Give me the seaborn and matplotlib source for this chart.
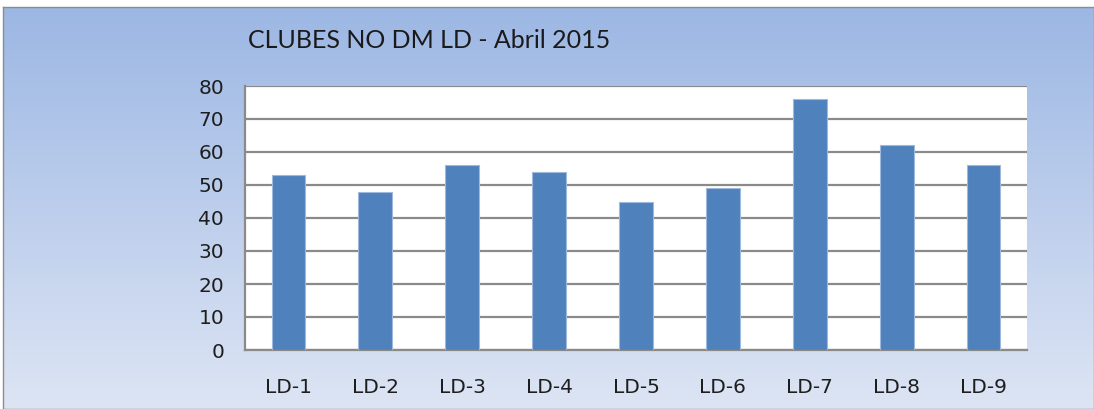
import numpy as np
import pandas as pd
import matplotlib
matplotlib.use("Agg")
import matplotlib.pyplot as plt
import seaborn as sns

# data
categories = ["LD-1", "LD-2", "LD-3", "LD-4", "LD-5", "LD-6", "LD-7", "LD-8", "LD-9"]
values = [53, 48, 56, 54, 45, 49, 76, 62, 56]
y_ticks = [0, 10, 20, 30, 40, 50, 60, 70, 80]
title = "CLUBES NO DM LD - Abril 2015"

sns.set_style("white")
plt.rcParams["font.family"] = ["DejaVu Sans"]

df = pd.DataFrame({"Clube": categories, "Valor": values})

fig = plt.figure(figsize=(10.94, 4.09), dpi=100)

# gradient background box
bg = fig.add_axes([3 / 1094, 0, 1 - 3 / 1094, 1 - 7 / 409])
grad = np.linspace(0, 1, 256).reshape(-1, 1)
top_c = np.array([0.612, 0.718, 0.894])
bot_c = np.array([0.867, 0.898, 0.957])
img = top_c + (bot_c - top_c) * grad[:, :, None]
bg.imshow(img, aspect="auto", extent=[0, 1, 0, 1], origin="upper")
bg.set_xticks([])
bg.set_yticks([])
for s in bg.spines.values():
    s.set_color("#8c8c8c")
    s.set_linewidth(1.0)

ax = fig.add_axes([245 / 1094, 1 - 350 / 409, (1027 - 245) / 1094, (350 - 86) / 409])
ax.set_facecolor("white")
sns.barplot(data=df, x="Clube", y="Valor", color="#4F81BD", width=0.39,
            edgecolor="#9fb9dc", linewidth=0.8, saturation=1, ax=ax, zorder=3)

ax.set_ylim(0, 80)
ax.set_xlim(-0.5, len(categories) - 0.5)
ax.set_yticks(y_ticks)
ax.yaxis.grid(True, color="#8a8a8a", linewidth=1.6, zorder=0)
ax.set_axisbelow(True)

# x ticks between categories, labels centred under bars
ax.set_xticks(np.arange(-0.5, len(categories), 1.0))
ax.set_xticklabels([])
ax.set_xticks(np.arange(len(categories)), minor=True)
ax.set_xticklabels(categories, minor=True)
ax.tick_params(axis="x", which="major", length=6, width=1.5, color="#8a8a8a", direction="out")
ax.tick_params(axis="x", which="minor", length=0, pad=20, labelsize=14.5, labelcolor="#1e1e1e")
ax.tick_params(axis="y", length=5, width=1.5, color="#8a8a8a", direction="out",
               pad=10, labelsize=14.5, labelcolor="#1e1e1e")

for side in ["top", "right"]:
    ax.spines[side].set_visible(False)
for side in ["left", "bottom"]:
    ax.spines[side].set_color("#8a8a8a")
    ax.spines[side].set_linewidth(1.6)

ax.set_xlabel("")
ax.set_ylabel("")

fig.text(248 / 1094, 1 - 41 / 409, title, fontsize=18, color="#1a1a1a",
         ha="left", va="center", family=["Lato", "DejaVu Sans"])

fig.savefig("out.png", dpi=100)
plt.close()
